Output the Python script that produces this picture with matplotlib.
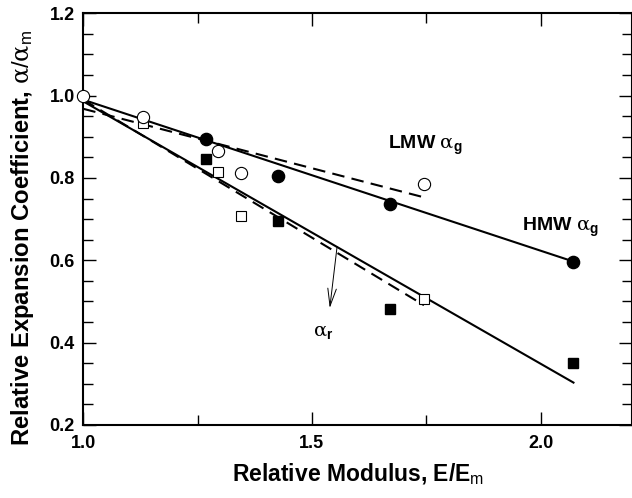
import matplotlib
matplotlib.use("Agg")
import matplotlib.pyplot as plt
from matplotlib.ticker import MultipleLocator

plt.rcParams['font.family'] = ['Liberation Sans', 'DejaVu Sans']
plt.rcParams['font.weight'] = 'bold'
plt.rcParams['mathtext.fontset'] = 'custom'
plt.rcParams['mathtext.rm'] = 'Liberation Sans:normal'
plt.rcParams['mathtext.bf'] = 'Liberation Sans:bold'
plt.rcParams['mathtext.it'] = 'DejaVu Serif:normal'

# HMW glassy expansion (filled circles)
hmw_g_mod = [1.268, 1.426, 1.670, 2.072]
hmw_g_alpha = [0.894, 0.806, 0.736, 0.597]
# LMW glassy expansion (open circles)
lmw_g_mod = [1.000, 1.131, 1.295, 1.344, 1.745]
lmw_g_alpha = [1.000, 0.947, 0.866, 0.811, 0.785]
# HMW rubbery expansion (filled squares)
hmw_r_mod = [1.268, 1.426, 1.670, 2.072]
hmw_r_alpha = [0.845, 0.695, 0.482, 0.350]
# LMW rubbery expansion (open squares)
lmw_r_mod = [1.131, 1.295, 1.344, 1.745]
lmw_r_alpha = [0.933, 0.815, 0.708, 0.505]

# linear fits, given by their end points
hmw_g_fit_x = [1.0, 2.072]
hmw_g_fit_y = [0.990, 0.597]
lmw_g_fit_x = [1.0, 1.745]
lmw_g_fit_y = [0.968, 0.753]
hmw_r_fit_x = [1.0, 2.072]
hmw_r_fit_y = [0.986, 0.303]
lmw_r_fit_x = [1.0, 1.745]
lmw_r_fit_y = [0.990, 0.491]

fig = plt.figure(figsize=(6.32, 4.98), dpi=100)
ax = fig.add_axes([0.1318, 0.1466, 0.8682, 0.8267])

dash = (0, (6, 3.5))
ax.plot(hmw_g_fit_x, hmw_g_fit_y, color='black', lw=1.5, zorder=2)
ax.plot(lmw_g_fit_x, lmw_g_fit_y, color='black', lw=1.5, ls=dash, zorder=2)
ax.plot(hmw_r_fit_x, hmw_r_fit_y, color='black', lw=1.5, zorder=2)
ax.plot(lmw_r_fit_x, lmw_r_fit_y, color='black', lw=1.5, ls=dash, zorder=2)

ax.plot(hmw_r_mod, hmw_r_alpha, 's', ms=7.7, mfc='black', mec='black', ls='none', zorder=3)
ax.plot(lmw_r_mod, lmw_r_alpha, 's', ms=7.7, mfc='white', mec='black', mew=0.8,
        ls='none', zorder=3)
ax.plot(hmw_g_mod, hmw_g_alpha, 'o', ms=8.8, mfc='black', mec='black', ls='none', zorder=4)
ax.plot(lmw_g_mod, lmw_g_alpha, 'o', ms=8.8, mfc='white', mec='black', mew=0.8,
        ls='none', zorder=4, clip_on=False)

ax.annotate('', xy=(1.539, 0.484), xytext=(1.555, 0.633),
            arrowprops=dict(arrowstyle='->, head_length=0.9, head_width=0.22',
                            lw=0.7, color='black', mutation_scale=14,
                            shrinkA=0, shrinkB=0))

ax.text(1.667, 0.870, r'LMW $\alpha_\mathbf{g}$', fontsize=14, fontweight='bold',
        ha='left', va='baseline')
ax.text(1.960, 0.671, r'HMW $\alpha_\mathbf{g}$', fontsize=14, fontweight='bold',
        ha='left', va='baseline')
ax.text(1.502, 0.416, r'$\alpha_\mathbf{r}$', fontsize=14, ha='left', va='baseline')

ax.set_xlim(1.0, 2.2)
ax.set_ylim(0.2, 1.2)
ax.xaxis.set_major_locator(MultipleLocator(0.5))
ax.xaxis.set_minor_locator(MultipleLocator(0.25))
ax.yaxis.set_major_locator(MultipleLocator(0.2))
ax.yaxis.set_minor_locator(MultipleLocator(0.05))
ax.xaxis.set_major_formatter(plt.FormatStrFormatter('%.1f'))
ax.yaxis.set_major_formatter(plt.FormatStrFormatter('%.1f'))

ax.tick_params(which='both', direction='in', top=True, right=True, width=1.0)
ax.tick_params(which='major', length=9.5)
ax.tick_params(which='minor', length=7.2)
ax.tick_params(axis='x', which='major', pad=7, labelsize=13)
ax.tick_params(axis='y', which='major', pad=6, labelsize=13)
for sp in ax.spines.values():
    sp.set_linewidth(1.5)

ax.set_xlabel(r'Relative Modulus, E/E$_\mathrm{m}$', fontsize=16.5, fontweight='bold',
              labelpad=7)
ax.set_ylabel(r'Relative Expansion Coefficient, $\alpha/\alpha_\mathrm{m}$', fontsize=17.2,
              fontweight='bold')
ax.yaxis.set_label_coords(-0.087, 0.455)

fig.savefig('out.png', dpi=100)
